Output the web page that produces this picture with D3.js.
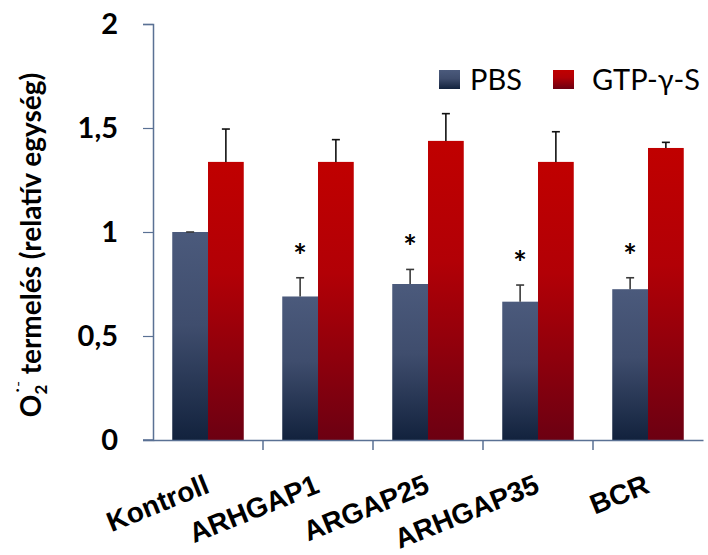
<!DOCTYPE html>
<html>
<head>
<meta charset="utf-8">
<script src="https://cdn.jsdelivr.net/npm/d3@7"></script>
<style>
  body { margin: 0; background: #fff; }
  svg { font-family: Lato, "Open Sans", sans-serif; }
</style>
</head>
<body>
<div class="container"></div>
<script>
// values
const categories = ["Kontroll", "ARHGAP1", "ARGAP25", "ARHGAP35", "BCR"];
const seriesNames = ["PBS", "GTP-γ-S"];
const pbsValues = [1.0, 0.69, 0.75, 0.665, 0.725];
const pbsErrors = [0.0, 0.09, 0.07, 0.08, 0.055];
const gtpValues = [1.337, 1.337, 1.438, 1.337, 1.404];
const gtpErrors = [0.158, 0.107, 0.131, 0.145, 0.027];
const significant = [false, true, true, true, true];
const yTicks = [0, 0.5, 1, 1.5, 2];
const yTickLabels = ["0", "0,5", "1", "1,5", "2"];

const width = 708, height = 555;
const margin = {top: 24, right: 5, bottom: 115, left: 153};

const svg = d3.select('.container')
    .append('svg')
    .attr('width', width)
    .attr('height', height);

const defs = svg.append('defs');
function gradient(id, stops) {
    const g = defs.append('linearGradient')
        .attr('id', id).attr('x1', 0).attr('y1', 0).attr('x2', 0).attr('y2', 1);
    stops.forEach(s => g.append('stop').attr('offset', s[0]).attr('stop-color', s[1]));
}
gradient('gBlue', [[0, '#4b5a7c'], [0.45, '#3f4d6d'], [1, '#12223d']]);
gradient('gRed', [[0, '#c00000'], [0.4, '#b20006'], [1, '#6c0012']]);
const fills = ['url(#gBlue)', 'url(#gRed)'];

const xScale = d3.scaleBand()
    .domain(categories)
    .range([margin.left, width - margin.right])
    .paddingInner(0)
    .paddingOuter(0);

const xSub = d3.scaleBand()
    .domain(seriesNames)
    .range([0, xScale.bandwidth()])
    .paddingInner(0)
    .paddingOuter(0.35 / 0.65 * 1);

const yScale = d3.scaleLinear()
    .domain([0, 2])
    .range([height - margin.bottom, margin.top]);

const axisColor = '#5a7194';

// bars
const rows = categories.map((c, i) => ({
    category: c,
    vals: [
        {s: seriesNames[0], v: pbsValues[i], e: pbsErrors[i], k: 0},
        {s: seriesNames[1], v: gtpValues[i], e: gtpErrors[i], k: 1}
    ],
    sig: significant[i]
}));

const groups = svg.selectAll('g.grp')
    .data(rows)
    .enter()
    .append('g')
    .attr('class', 'grp')
    .attr('transform', d => 'translate(' + xScale(d.category) + ',0)');

const bw = xSub.bandwidth();

groups.selectAll('rect')
    .data(d => d.vals)
    .enter()
    .append('rect')
    .attr('x', d => xSub(d.s))
    .attr('y', d => yScale(d.v))
    .attr('width', bw)
    .attr('height', d => yScale(0) - yScale(d.v))
    .attr('fill', d => fills[d.k]);

// error bars (upper only)
const errs = groups.selectAll('g.err')
    .data(d => d.vals)
    .enter()
    .append('g')
    .attr('class', 'err')
    .attr('stroke', d => d.k === 0 ? '#3a3a3a' : '#111')
    .attr('stroke-width', 1.6);
errs.append('line')
    .attr('x1', d => xSub(d.s) + bw / 2)
    .attr('x2', d => xSub(d.s) + bw / 2)
    .attr('y1', d => yScale(d.v))
    .attr('y2', d => yScale(d.v + d.e));
errs.append('line')
    .attr('x1', d => xSub(d.s) + bw / 2 - 4)
    .attr('x2', d => xSub(d.s) + bw / 2 + 4)
    .attr('y1', d => yScale(d.v + d.e))
    .attr('y2', d => yScale(d.v + d.e));

// significance stars
groups.filter(d => d.sig)
    .append('text')
    .attr('x', xSub(seriesNames[0]) + bw / 2)
    .attr('y', d => yScale(d.vals[0].v + d.vals[0].e) - 10)
    .attr('text-anchor', 'middle')
    .attr('font-size', 32)
    .attr('font-weight', 'bold')
    .attr('fill', '#000')
    .text('*');

// y axis
const yAxis = d3.axisLeft(yScale)
    .tickValues(yTicks)
    .tickFormat((d, i) => yTickLabels[i])
    .tickSizeInner(10)
    .tickSizeOuter(10)
    .tickPadding(25);

const gy = svg.append('g')
    .attr('transform', 'translate(' + margin.left + ',0)')
    .call(yAxis);
gy.select('.domain').attr('stroke', axisColor).attr('stroke-width', 1.5);
gy.selectAll('.tick line').attr('stroke', axisColor).attr('stroke-width', 1.2);
gy.selectAll('.tick text')
    .attr('fill', '#000')
    .attr('font-size', 29)
    .attr('font-weight', 'bold')
    .attr('font-family', 'Lato, sans-serif');

// x axis
const xAxis = d3.axisBottom(xScale)
    .tickSizeInner(0)
    .tickSizeOuter(0)
    .tickFormat('');
const gx = svg.append('g')
    .attr('transform', 'translate(0,' + yScale(0) + ')')
    .call(xAxis);
gx.select('.domain').attr('stroke', axisColor).attr('stroke-width', 1.5);
gx.append('line')
    .attr('x1', margin.left - 10).attr('x2', margin.left)
    .attr('stroke', axisColor).attr('stroke-width', 1.5);
gx.selectAll('line.sep')
    .data(categories.slice(1))
    .enter()
    .append('line')
    .attr('class', 'sep')
    .attr('x1', d => xScale(d)).attr('x2', d => xScale(d))
    .attr('y1', 0).attr('y2', 10)
    .attr('stroke', axisColor).attr('stroke-width', 1.5);

gx.selectAll('text.cat')
    .data(categories)
    .enter()
    .append('text')
    .attr('class', 'cat')
    .attr('text-anchor', 'end')
    .attr('font-size', 28)
    .attr('font-weight', 'bold')
    .attr('fill', '#000')
    .attr('transform', d => 'translate(' + (xScale(d) + xScale.bandwidth() / 2 + 3) + ',52) rotate(-22)')
    .text(d => d);

// y axis title
const yt = svg.append('text')
    .attr('transform', 'translate(41,' + 245 + ') rotate(-90)')
    .attr('text-anchor', 'middle')
    .attr('font-size', 28)
    .attr('font-weight', 'bold')
    .attr('fill', '#000');
yt.append('tspan').text('O');
yt.append('tspan').attr('font-size', 17).attr('dy', 6).text('2');
yt.append('tspan').attr('font-size', 17).attr('dy', -18).attr('dx', -9).text('˙⁻');
yt.append('tspan').attr('dy', 12).text(' termelés (relatív egység)');

// legend
const legend = svg.append('g')
    .attr('transform', 'translate(439,70)');
const legendX = [0, 114];
const legendTextX = [31, 39];
const li = legend.selectAll('g')
    .data(seriesNames)
    .enter()
    .append('g')
    .attr('transform', (d, i) => 'translate(' + legendX[i] + ',0)');
li.append('rect')
    .attr('width', 21).attr('height', 19)
    .attr('fill', (d, i) => fills[i]);
li.append('text')
    .attr('x', (d, i) => legendTextX[i]).attr('y', 20)
    .attr('font-size', 29)
    .attr('fill', '#000')
    .text(d => d);
</script>
</body>
</html>
